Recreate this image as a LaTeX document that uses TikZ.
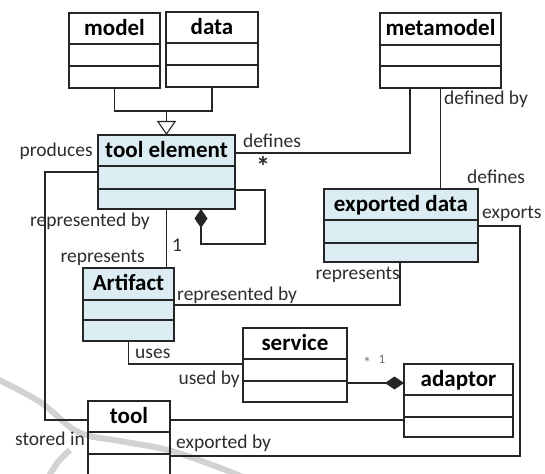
\documentclass[tikz,border=0pt]{standalone}
\usepackage{fontspec}
\setmainfont{Carlito}
\usetikzlibrary{arrows.meta,calc}

\definecolor{clsblue}{RGB}{219,237,243}
\definecolor{inkgray}{RGB}{45,45,45}
\definecolor{swoosh}{RGB}{210,210,210}

\tikzset{
  cls/.style={draw=black!85, line width=1.1pt, inner sep=0pt, outer sep=0pt},
  ttl/.style={font=\fontsize{23}{26}\selectfont\bfseries, text=black, inner sep=0pt},
  lbl/.style={font=\fontsize{19.5}{22}\selectfont, text=inkgray, inner sep=0pt},
  tiny/.style={font=\fontsize{13}{15}\selectfont, text=black!55, inner sep=0pt},
  conn/.style={draw=black!85, line width=1.1pt},
  comp/.style={{Diamond[length=19pt,width=13pt]}-},
  compend/.style={-{Diamond[length=19pt,width=13pt]}},
  gen/.style={-{Triangle[open,length=14pt,width=19pt,fill=white]}}
}

% UML class: name, x1, y1, x2, y2, first divider, second divider, fill, title
\newcommand{\umlclass}[9]{%
  \node[cls, fill=#8, minimum width={(#4-#2)*1pt}, minimum height={(#5-#3)*1pt},
        anchor=north west] (#1) at (#2,#3) {};
  \draw[draw=black!85, line width=1.1pt] (#2,#6) -- (#4,#6);
  \draw[draw=black!85, line width=1.1pt] (#2,#7) -- (#4,#7);
  \node[ttl, anchor=base] at ({(#2+#4)/2},{#3+22.5}) {#9};
}

\begin{document}
\begin{tikzpicture}[x=1pt,y=-1pt]
\clip (0,0) rectangle (545,473);
\fill[white] (0,0) rectangle (545,473);

% background swoosh
\draw[swoosh, line width=6pt, line cap=round]
  plot[smooth, tension=0.6] coordinates {(-5,378) (40,402) (78,432) (120,441) (168,450) (215,466) (245,478)};
\draw[swoosh, line width=6pt]
  plot[smooth] coordinates {(70,450) (58,462) (48,478)};

% classes
\umlclass{model}{69}{13}{160}{88}{44}{66}{none}{model}
\umlclass{data}{166}{12}{258}{87}{43}{65}{none}{data}
\umlclass{metamodel}{380}{13}{501}{88}{45}{66}{none}{metamodel}
\umlclass{toolel}{98}{135}{235}{209}{166}{189}{clsblue}{tool element}
\umlclass{exported}{324}{189}{478}{262}{220}{243}{clsblue}{exported data}
\umlclass{artifact}{83}{268}{174}{341}{300}{320}{clsblue}{Artifact}
\umlclass{service}{243}{328}{347}{402}{359}{381}{none}{service}
\umlclass{adaptor}{404}{364}{513}{437}{395}{417}{none}{adaptor}
\umlclass{tool}{88}{401}{170}{490}{432}{454}{none}{tool}

% generalization: model, data -> tool element
\coordinate (genjoin) at (166.5,111);
\draw[conn] (model.south) |- (genjoin) -| (data.south);
\draw[conn, gen] (genjoin) -- (toolel.north);

% produces / stored in
\draw[conn] ($(toolel.north west)+(0,37)$) -| ($(tool.north west)+(-43,19)$) -- ($(tool.north west)+(0,19)$);
\node[lbl, anchor=base east] at (93,157) {produces};
\node[lbl, anchor=base east] at (85,445) {stored in};

% defines (metamodel -> tool element)
\draw[conn] ($(toolel.north east)+(0,18)$) -| ($(metamodel.south west)+(30,0)$);
\node[lbl, anchor=base west] at (243,147) {defines};
\node[font=\fontsize{28}{30}\selectfont\bfseries, text=inkgray, inner sep=0pt, anchor=base] at (263,176) {*};

% defined by / defines (metamodel - exported data)
\draw[conn] (metamodel.south) -- (metamodel.south |- exported.north);
\node[lbl, anchor=base west] at (444,105) {defined by};
\node[lbl, anchor=base west] at (467,183) {defines};

% exports / exported by
\draw[conn] ($(exported.north east)+(0,37)$) -| ($(tool.north east)+(350,55)$) -- ($(tool.north east)+(0,55)$);
\node[lbl, anchor=base west] at (482,218) {exports};
\node[lbl, anchor=base west] at (176,448) {exported by};

% tool - adaptor
\draw[conn] ($(tool.north east)+(0,19)$) -- ($(adaptor.north west)+(0,56)$);

% tool element - artifact
\draw[conn] (toolel.south) -- (toolel.south |- artifact.north);
\node[lbl, anchor=base east] at (150,226) {represented by};
\node[lbl, anchor=base east] at (145,262) {represents};
\node[lbl, anchor=base west] at (172,251) {1};

% composition loop on tool element
\coordinate (loopc) at (265,244);
\draw[conn, comp] ($(toolel.south west)+(103,0)$) |- (loopc) |- ($(toolel.north east)+(0,55)$);

% artifact - exported data
\draw[conn] ($(artifact.north east)+(0,37)$) -| ($(exported.south west)+(76,0)$);
\node[lbl, anchor=base west] at (177,300) {represented by};
\node[lbl, anchor=base east] at (400,279) {represents};

% uses / used by
\draw[conn] (artifact.south) |- ($(service.north west)+(0,36)$);
\node[lbl, anchor=base west] at (135,358) {uses};
\node[lbl, anchor=base east] at (240,384) {used by};

% service - adaptor composition
\draw[conn, compend] ($(service.north east)+(0,55)$) -- ($(adaptor.north west)+(0,19)$);
\node[tiny, font=\fontsize{16}{18}\selectfont, anchor=base] at (367,368) {*};
\node[tiny, anchor=base] at (382,363) {1};
\end{tikzpicture}
\end{document}
